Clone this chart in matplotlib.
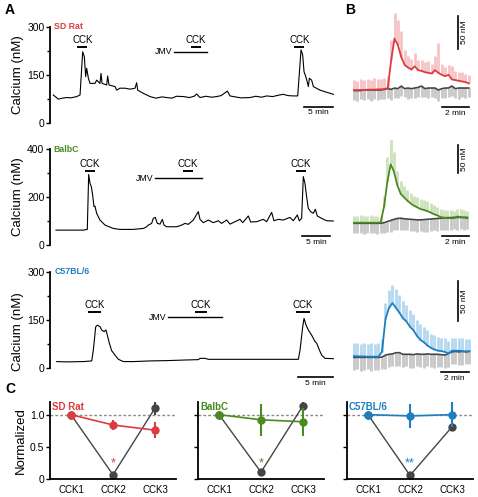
import numpy as np
import matplotlib.pyplot as plt

plt.rcParams['font.family'] = ['Liberation Sans', 'DejaVu Sans']
plt.rcParams['font.size'] = 7.5

RED, RED_L = '#de3b40', '#f5c3c5'
GREEN, GREEN_L = '#4a8a1e', '#cde2bb'
BLUE, BLUE_L = '#1c7fc0', '#b3d8f0'
DARK, GREY_L = '#454545', '#c8c8c8'

# ---------------------------------------------------------------------
# Panel A: single-cell calcium traces (time in min, calcium in nM)
rat_t = [0.0, 0.85, 1.5, 2.27, 3.0, 3.98, 4.55, 5.0, 5.28, 5.51, 5.68, 5.97, 6.25,
         7.10, 7.39, 7.95, 8.13, 8.30, 9.09, 9.26, 9.49, 10.51, 10.80, 11.36,
         12.22, 13.07, 13.92, 14.20, 14.38, 15.34, 16.48, 17.5, 18.5, 19.32, 20.2,
         21.0, 22.16, 23.2, 24.0, 24.43, 25.0, 26.0, 27.0, 27.84, 28.6, 29.66,
         30.11, 31.0, 32.0, 33.52, 34.5, 35.5, 36.36, 37.4, 38.3, 39.2, 40.0,
         40.91, 41.65, 42.22, 42.50, 42.73, 43.07, 43.47, 43.64, 44.03, 44.32,
         45.45, 46.31, 47.73]
rat_ca = [88, 75, 78, 80, 79, 83, 88, 222, 207, 145, 171, 140, 124,
          124, 134, 124, 155, 124, 119, 147, 119, 114, 103, 109,
          109, 106, 109, 126, 103, 93, 83, 78, 82, 80, 78,
          84, 83, 80, 84, 91, 80, 84, 81, 83, 86, 100,
          85, 82, 79, 80, 84, 81, 85, 83, 87, 90, 86,
          85, 85, 228, 212, 160, 143, 114, 140, 134, 114,
          103, 98, 90]

balb_t = [0.48, 2.41, 5.42, 6.14, 6.39, 6.63, 6.87, 7.11, 7.35, 7.53, 7.83, 8.43,
          9.34, 10.84, 12.05, 14.46, 16.27, 16.87, 17.17, 17.77, 18.07, 18.43,
          18.80, 19.28, 19.70, 20.0, 20.48, 22.29, 23.19, 23.80, 24.40, 25.30,
          26.20, 26.51, 27.11, 28.01, 28.92, 29.82, 30.42, 31.33, 31.93, 32.83,
          33.73, 34.22, 35.24, 35.66, 36.75, 37.95, 38.55, 39.46, 39.88, 40.66,
          41.57, 42.77, 43.37, 44.10, 44.46, 44.88, 45.18, 45.48, 45.78, 46.08,
          46.51, 46.99, 47.35, 47.71, 48.49, 49.40, 50.60]
balb_ca = [62, 62, 62, 65, 294, 257, 243, 208, 160, 162, 132, 104,
           83, 69, 65, 65, 69, 76, 83, 90, 111, 115,
           90, 87, 107, 83, 76, 76, 83, 90, 86, 104,
           139, 107, 93, 104, 93, 101, 90, 104, 87, 97,
           107, 93, 121, 96, 97, 107, 97, 136, 101, 107,
           104, 115, 101, 125, 101, 111, 285, 257, 201, 153,
           139, 132, 149, 121, 111, 101, 100]

c57_t = [0.48, 1.90, 4.29, 5.48, 5.71, 6.05, 6.29, 6.67, 6.90, 7.24, 7.52, 7.71,
         8.0, 8.33, 8.81, 9.29, 10.0, 11.43, 13.81, 16.19, 19.05, 20.71, 20.95,
         21.67, 22.14, 25.71, 30.48, 35.0, 35.24, 35.62, 35.81, 36.10, 36.43,
         36.90, 37.38, 37.62, 38.0, 38.33, 38.81, 40.0]
c57_ca = [21, 20, 21, 23, 57, 129, 134, 129, 119, 114, 119, 103,
          78, 55, 41, 28, 21, 21, 23, 24, 26, 27, 31,
          31, 28, 28, 28, 28, 57, 129, 155, 134, 119,
          103, 83, 78, 57, 41, 31, 30]

# drug applications (min): CCK pulses and JMV-180 window
rat_cck = [(4.09, 5.80), (23.4, 25.1), (41.1, 42.8)]
rat_jmv = (20.6, 26.25)
balb_cck = [(5.72, 7.53), (23.37, 25.18), (43.86, 45.66)]
balb_jmv = (18.37, 26.93)
c57_cck = [(5.0, 6.81), (20.24, 21.90), (34.67, 36.67)]
c57_jmv = (16.43, 24.05)

# ---------------------------------------------------------------------
# Panel B: mean responses (change from baseline, nM) +/- SEM
b_time = [0.0, 0.25, 0.5, 0.75, 1.0, 1.25, 1.5, 1.75, 2.0, 2.25, 2.5, 2.75,
          3.0, 3.25, 3.5, 3.75, 4.0, 4.25, 4.5, 4.75, 5.0, 5.25, 5.5, 5.75,
          6.0, 6.25, 6.5, 6.75, 7.0, 7.25, 7.5, 7.75, 8.0, 8.25, 8.5]

rat_mean = [0, 0, 0, 0, 0.5, 0.5, 0.5, 1, 1, 1.5, 3, 45, 78, 68, 50, 38, 34, 31,
            36, 30, 29, 27, 26, 25, 30, 26, 23, 21, 23, 16, 15, 14, 13, 12, 10]
rat_sem = [15, 14, 16, 15, 16, 15, 17, 16, 15, 16, 18, 30, 38, 38, 40, 22, 18, 16,
           20, 15, 17, 16, 18, 15, 22, 45, 16, 14, 15, 20, 14, 13, 14, 13, 13]
rat_ctl = [-1, -1, -1, 0, 0, 0, 0, 0, 0, 1, 2, 1, 3, 2, 6, 2, 3, 2, 3, 4, 6, 2,
           3, 3, 3, 0, 2, 3, 3, 6, 2, 3, 3, 3, 3]
rat_ctl_sem = [14, 15, 13, 15, 14, 16, 14, 15, 13, 15, 14, 16, 15, 14, 15, 13,
               16, 14, 15, 14, 16, 13, 15, 14, 15, 16, 14, 15, 13, 15, 14, 16,
               14, 15, 14]

balb_mean = [0, 0, 0, 0, 0, 0, 0, 0, 0.5, 28, 72, 103, 90, 66, 51, 45, 39, 34,
             30, 27, 24, 22.5, 20.5, 18, 15, 13, 10, 9, 8, 8, 8, 11, 10, 9, 8]
balb_sem = [12, 12, 13, 12, 12, 13, 12, 12, 12, 20, 44, 47, 35, 25, 22, 20, 19,
            19, 18, 18, 17, 17, 17, 16, 16, 15, 15, 14, 14, 14, 13, 14, 14, 13, 13]
balb_ctl = [-1, -1, -1, -1, -1, -1, -1, -1, -1, 0, 2, 4, 6, 7.5, 8, 7, 6.5, 6,
            5.5, 5, 5, 5.5, 6, 6.5, 7, 7.5, 8, 8.5, 9, 9, 9.4, 9.4, 9.4, 9.4, 9.4]
balb_ctl_sem = [18, 17, 18, 19, 17, 18, 17, 19, 18, 18, 19, 20, 19, 20, 21, 20,
                19, 21, 20, 21, 20, 21, 22, 21, 20, 22, 21, 22, 21, 22, 21, 22,
                21, 22, 21]

c57_mean = [0.8, 0.5, 0.5, 0.3, 0, 0, 0, 0, 6, 47, 61, 67, 61, 55, 48, 44, 37.5,
            33, 26, 21, 18, 14, 11, 9, 7.5, 7, 6, 4, 7.5, 7.5, 7.5, 7, 6.7, 6.7]
c57_sem = [16, 17, 16, 17, 16, 17, 16, 17, 16, 20, 22, 22, 23, 22, 22, 21, 21,
           20, 20, 20, 19, 19, 18, 18, 17, 17, 17, 16, 16, 16, 16, 16, 16, 16]
c57_ctl = [-0.8, -0.8, -0.8, -0.8, -0.8, -0.8, -0.8, -0.8, -0.5, 2, 3, 3.5, 5,
           5, 3, 3, 3, 2.5, 3.5, 3, 3, 3.5, 3, 3, 3, 2.5, 2, 4, 6, 6.5, 6, 6.5,
           6, 6.5]
c57_ctl_sem = [16, 15, 17, 16, 15, 17, 16, 16, 15, 17, 16, 15, 17, 16, 16, 15,
               17, 16, 15, 16, 17, 15, 16, 17, 16, 15, 16, 17, 15, 16, 16, 17,
               15, 16]

# ---------------------------------------------------------------------
# Panel C: normalized peak responses (CCK1, CCK2, CCK3)
pulses = ['CCK1', 'CCK2', 'CCK3']
rat_norm, rat_norm_err = [1.0, 0.84, 0.76], [0.0, 0.08, 0.12]
rat_jmv_norm, rat_jmv_err = [1.0, 0.07, 1.10], [0.0, 0.02, 0.10]
balb_norm, balb_norm_err = [1.0, 0.92, 0.89], [0.0, 0.25, 0.22]
balb_jmv_norm, balb_jmv_err = [1.0, 0.11, 1.14], [0.0, 0.02, 0.05]
c57_norm, c57_norm_err = [1.0, 0.98, 1.0], [0.0, 0.18, 0.19]
c57_jmv_norm, c57_jmv_err = [1.0, 0.06, 0.81], [0.0, 0.02, 0.07]

W, H = 478, 497
fig = plt.figure(figsize=(W / 100, H / 100), dpi=100)


def px_rect(x0, y0, x1, y1):
    # pixel box (top-left origin) -> figure fraction
    return [x0 / W, 1 - y1 / H, (x1 - x0) / W, (y1 - y0) / H]


def trace_panel(rect, t, ca, xlim, ylim, top, name, color, cck, jmv, bar, bar_y):
    ax = fig.add_axes(rect)
    ax.plot(t, ca, color='k', lw=0.8)
    ax.set_xlim(xlim)
    ax.set_ylim(ylim)
    for s in ['top', 'right', 'bottom']:
        ax.spines[s].set_visible(False)
    ax.spines['left'].set_bounds(0, top)
    ax.spines['left'].set_linewidth(1.3)
    ax.set_xticks([])
    ax.set_yticks([0, top / 2, top])
    ax.set_yticklabels(['0', '%d' % (top / 2), '%d' % top])
    ax.set_yticks([top / 4, 3 * top / 4], minor=True)
    ax.tick_params(axis='y', which='major', length=3, width=1, pad=1, labelsize=7.5)
    ax.tick_params(axis='y', which='minor', length=2, width=1)
    ax.set_ylabel('Calcium (nM)', fontsize=9.5, labelpad=2)
    ax.text(xlim[0] + 0.6, top, name, color=color, fontsize=6.3,
            fontweight='bold', ha='left', va='center')
    for (a, b), y in zip(cck, bar_y[:3]):
        ax.plot([a, b], [y, y], color='k', lw=1.4, solid_capstyle='butt')
        ax.annotate('CCK', ((a + b) / 2, y), xytext=(0, 1.5),
                    textcoords='offset points', ha='center', va='bottom', fontsize=7)
    ax.plot(jmv, [bar_y[3]] * 2, color='k', lw=1.0)
    ax.annotate('JMV', (jmv[0], bar_y[3]), xytext=(-1, 0),
                textcoords='offset points', ha='right', va='center', fontsize=6.3)
    ax.plot(bar, [bar_y[4]] * 2, color='k', lw=1.2)
    ax.annotate('5 min', ((bar[0] + bar[1]) / 2, bar_y[4]), xytext=(0, -2),
                textcoords='offset points', ha='center', va='top', fontsize=6)
    return ax


trace_panel(px_rect(50, 26.7, 337, 123.3), rat_t, rat_ca, (-0.57, 48.35), (0, 300),
            300, 'SD Rat', RED, rat_cck, rat_jmv, (42.7, 47.7), [238, 238, 238, 222, 52])
trace_panel(px_rect(50, 149, 337, 245), balb_t, balb_ca, (-0.6, 51.27), (0, 400),
            400, 'BalbC', GREEN, balb_cck, balb_jmv, (45.0, 50.0), [308, 308, 308, 278, 37.5])
trace_panel(px_rect(50, 271.7, 337, 392.5), c57_t, c57_ca, (-0.48, 40.52), (-75, 300),
            300, 'C57BL/6', BLUE, c57_cck, c57_jmv, (35.0, 40.0), [174, 174, 174, 158, -28])


def mean_panel(rect, xlim, ylim, mean, sem, ctl, ctl_sem, color, light, vbar, hbar):
    ax = fig.add_axes(rect)
    t = b_time[:len(mean)]
    m, e = np.array(mean), np.array(sem)
    c, ce = np.array(ctl), np.array(ctl_sem)
    ax.vlines(t, c - ce, c, color=GREY_L, lw=2.0)
    ax.vlines(t, m, m + e, color=light, lw=2.0)
    ax.plot(t, c, color=DARK, lw=1.2)
    ax.plot(t, m, color=color, lw=1.3)
    ax.set_xlim(xlim)
    ax.set_ylim(ylim)
    ax.axis('off')
    x, y0, y1 = vbar
    ax.plot([x, x], [y0, y1], color='k', lw=1.2)
    ax.text(x + 0.25, (y0 + y1) / 2, '50 nM', rotation=90, ha='left', va='center',
            fontsize=6)
    a, b, y = hbar
    ax.plot([a, b], [y, y], color='k', lw=1.2)
    ax.annotate('2 min', ((a + b) / 2, y), xytext=(0, -2), textcoords='offset points',
                ha='center', va='top', fontsize=6)


mean_panel(px_rect(352, 10, 472, 118), (-0.15, 8.74), (-42.4, 121.2), rat_mean, rat_sem,
           rat_ctl, rat_ctl_sem, RED, RED_L, (7.7, 62, 112), (6.52, 8.52, -25.8))
mean_panel(px_rect(352, 140, 472, 250), (-0.15, 8.85), (-48.1, 145.9), balb_mean, balb_sem,
           balb_ctl, balb_ctl_sem, GREEN, GREEN_L, (7.8, 87, 137), (6.6, 8.6, -23.5))
mean_panel(px_rect(352, 275, 472, 390), (-0.14, 8.43), (-41.6, 102.1), c57_mean, c57_sem,
           c57_ctl, c57_ctl_sem, BLUE, BLUE_L, (7.4, 44, 94), (6.2, 8.2, -19.6))


def norm_panel(rect, vals, errs, jv, jerr, color, name, stars, first):
    ax = fig.add_axes(rect)
    x = np.arange(len(pulses))
    ax.axhline(1.0, color='#8a8a8a', lw=1.0, ls=(0, (2, 1.5)), zorder=1)
    ax.errorbar(x, jv, yerr=jerr, color=DARK, lw=1.0, marker='o', ms=5,
                elinewidth=1.5, capsize=0, zorder=2, clip_on=False)
    ax.errorbar(x, vals, yerr=errs, color=color, lw=1.2, marker='o', ms=5,
                elinewidth=1.5, capsize=0, zorder=3, clip_on=False)
    ax.text(1, 0.15, stars, color=color, ha='center', va='bottom', fontsize=9)
    ax.text(-0.45, 1.12, name, color=color, fontsize=7, fontweight='bold',
            ha='left', va='center')
    ax.set_xlim(-0.5, 2.5)
    ax.set_ylim(0, 1.2)
    for s in ['top', 'right']:
        ax.spines[s].set_visible(False)
    for s in ['left', 'bottom']:
        ax.spines[s].set_linewidth(1.3)
    ax.set_xticks(x)
    ax.set_xticklabels(pulses, fontsize=7)
    ax.set_yticks([0, 0.5, 1.0])
    ax.tick_params(axis='x', length=0, pad=4)
    ax.tick_params(axis='y', length=3, width=1, pad=1)
    if first:
        ax.set_yticklabels(['0', '0.5', '1.0'])
        ax.set_ylabel('Normalized', fontsize=9.5, labelpad=2)
    else:
        ax.set_yticklabels([])


norm_panel(px_rect(50, 401.7, 176, 479.3), rat_norm, rat_norm_err, rat_jmv_norm,
           rat_jmv_err, RED, 'SD Rat', '*', True)
norm_panel(px_rect(198, 401.7, 324, 479.3), balb_norm, balb_norm_err, balb_jmv_norm,
           balb_jmv_err, GREEN, 'BalbC', '*', False)
norm_panel(px_rect(347, 401.7, 473, 479.3), c57_norm, c57_norm_err, c57_jmv_norm,
           c57_jmv_err, BLUE, 'C57BL/6', '**', False)

for letter, (x, y) in zip('ABC', [(5, 3), (345, 3), (5, 382)]):
    fig.text(x / W, 1 - y / H, letter, fontsize=10, fontweight='bold', ha='left', va='top')

fig.savefig('out.png', dpi=100)
